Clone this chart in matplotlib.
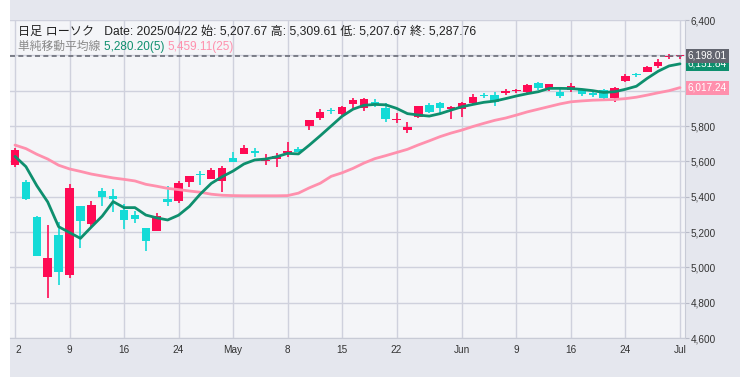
import numpy as np
import matplotlib
matplotlib.use("Agg")
import matplotlib.pyplot as plt
from matplotlib.patches import Rectangle

plt.rcParams['font.family'] = ['Liberation Sans', 'Noto Sans CJK JP', 'DejaVu Sans']

# daily candles (Apr 2 .. Jul 1)
opens = [5579, 5483, 5285, 4947, 5183, 4957, 5347, 5247, 5432, 5404,
         5325, 5295, 5223, 5207.67, 5387, 5376, 5485, 5525, 5502, 5490,
         5621, 5640, 5652, 5601, 5612, 5650, 5670, 5802, 5847, 5888,
         5866, 5923, 5904, 5938, 5900, 5832, 5776, 5849, 5919, 5932,
         5898, 5894, 5932, 5973, 5975, 5985, 5996, 5994, 6042, 6013,
         5994, 6002, 6004, 5985, 6004, 5960, 6056, 6094, 6108, 6141,
         6190, 6194]
highs = [5675, 5494, 5288, 5240, 5258, 5473, 5350, 5375, 5451, 5443,
         5359, 5319, 5225, 5309.61, 5460, 5489, 5517, 5545, 5562, 5575,
         5655, 5692, 5674, 5642, 5649, 5711, 5679, 5836, 5896, 5900,
         5913, 5957, 5960, 5951, 5928, 5872, 5823, 5915, 5932, 5936,
         5915, 5934, 5979, 5985, 5991, 6009, 6008, 6035, 6049, 6040,
         6008, 6042, 6009, 5994, 6011, 6023, 6094, 6100, 6140, 6179,
         6206, 6202]
lows = [5568, 5381, 5064, 4828, 4900, 4941, 5111, 5230, 5347, 5315,
        5215, 5249, 5094, 5207.67, 5349, 5366, 5453, 5464, 5502, 5428,
        5598, 5640, 5626, 5579, 5570, 5626, 5653, 5778, 5834, 5866,
        5863, 5900, 5887, 5909, 5824, 5819, 5762, 5847, 5875, 5872,
        5838, 5853, 5919, 5957, 5915, 5974, 5989, 5985, 6004, 5998,
        5957, 5994, 5970, 5966, 5947, 5934, 6047, 6075, 6104, 6130,
        6178, 6178]
closes = [5664, 5389, 5066, 5055, 4975, 5447, 5264, 5353, 5400, 5387,
          5268, 5275, 5151, 5287.76, 5372, 5477, 5515, 5522, 5551, 5562,
          5598, 5674, 5648, 5605, 5630, 5657, 5655, 5834, 5877, 5885,
          5906, 5947, 5951, 5926, 5838, 5836, 5793, 5913, 5881, 5904,
          5902, 5928, 5962, 5969, 5938, 5998, 5999, 6030, 6017, 6038,
          5972, 6028, 5979, 5976, 5957, 6013, 6085, 6087, 6136, 6164,
          6193, 6198.01]

ma5 = [5628, 5570, 5462, 5370, 5230, 5197, 5164, 5228, 5290, 5372,
       5338, 5338, 5296, 5280.2, 5268, 5295, 5345, 5415, 5475, 5513,
       5545, 5585, 5608, 5613, 5626, 5645, 5642, 5692, 5745, 5800,
       5855, 5895, 5917, 5922, 5920, 5900, 5870, 5862, 5856, 5870,
       5890, 5909, 5922, 5934, 5941, 5955, 5970, 5983, 5994, 6013,
       6013, 6012, 6007, 6000, 5990, 5994, 6008, 6025, 6070, 6110,
       6140, 6151.84]
ma25 = [5692, 5672, 5640, 5613, 5578, 5557, 5543, 5528, 5517, 5506,
        5498, 5489, 5470, 5459.11, 5447, 5440, 5432, 5425, 5414, 5408,
        5406, 5405, 5405, 5405, 5405, 5406, 5420, 5450, 5476, 5515,
        5535, 5560, 5590, 5615, 5632, 5650, 5668, 5693, 5716, 5740,
        5760, 5777, 5797, 5815, 5832, 5845, 5862, 5880, 5895, 5910,
        5925, 5937, 5942, 5946, 5948, 5950, 5955, 5963, 5975, 5988,
        6000, 6017.24]

tick_pos = [0, 5, 10, 15, 20, 25, 30, 35, 41, 46, 51, 56, 61]
tick_labels = ["2", "9", "16", "24", "May", "8", "15", "22", "Jun", "9", "16", "24", "Jul"]
y_ticks = list(range(4600, 6401, 200))

UP = "#ff0a54"
DOWN = "#14dbd7"
MA5_C = "#0e8f6e"
MA25_C = "#ff90ad"

W, H = 746, 379
fig = plt.figure(figsize=(W / 100, H / 100), dpi=100)
fig.patch.set_facecolor("#ffffff")
fig.add_artist(Rectangle((10 / W, 2 / H), 730 / W, 377 / H, transform=fig.transFigure,
                         facecolor="#e5e7ee", edgecolor="none", zorder=0))

ax = fig.add_axes([10 / W, (H - 338) / H, 675 / W, 318 / H])
ax.set_facecolor("#f4f5f8")

x = np.arange(len(closes))
o = np.array(opens)
c = np.array(closes)
up = c >= o
body_lo = np.minimum(o, c)
body_h = np.maximum(np.abs(c - o), 8)
colors = np.where(up, UP, DOWN)

ax.vlines(x, lows, highs, colors=colors, lw=1.2, zorder=3)
ax.bar(x, body_h, bottom=body_lo, width=0.78, color=colors, zorder=3)

ax.plot(x, ma25, color=MA25_C, lw=2, zorder=4, solid_capstyle="round")
ax.plot(x, ma5, color=MA5_C, lw=2, zorder=5, solid_capstyle="round")

ax.axhline(closes[-1], color="#6a6d78", lw=1.2, ls=(0, (3, 2)), zorder=6)

ax.set_xlim(-0.46, len(closes) - 1 + 0.46)
ax.set_ylim(4600, 6400)
ax.set_yticks(y_ticks)
# the 6,000 label sits under the MA25 price box
ax.set_yticklabels(["" if v == 6000 else f"{v:,}" for v in y_ticks])
ax.set_xticks(tick_pos)
ax.set_xticklabels(tick_labels)
ax.xaxis.get_ticklabels()[0].set_ha("left")
ax.yaxis.tick_right()
ax.grid(color="#cfd1dd", lw=1, zorder=0)
ax.set_axisbelow(True)
ax.tick_params(axis="y", length=3, color="#b8bbc8", labelsize=7.2, labelcolor="#333333", pad=1)
ax.tick_params(axis="x", length=0, labelsize=7.2, labelcolor="#333333", pad=5)
for s in ["top", "left"]:
    ax.spines[s].set_visible(False)
ax.spines["right"].set_color("#c8cbd6")
ax.spines["bottom"].set_color("#c8cbd6")

# price labels on the right scale
tr = ax.get_yaxis_transform()
for val, fc in [(ma25[-1], MA25_C), (ma5[-1], MA5_C), (closes[-1], "#62656f")]:
    ax.text(1.0 + 3 / 675, val, f"{val:,.2f}", transform=tr, ha="left", va="center",
            fontsize=7.2, color="white", zorder=10, clip_on=False,
            bbox=dict(boxstyle="square,pad=0.2", fc=fc, ec="none"))

# header legend
fig.text(18 / W, 1 - 32 / H,
         "日足 ローソク   Date: 2025/04/22 始: 5,207.67 高: 5,309.61 低: 5,207.67 終: 5,287.76",
         fontsize=8.7, color="#222222", va="center")
renderer = fig.canvas.get_renderer()
xpos = 18
for txt, col in [("単純移動平均線 ", "#8a8a8a"), ("5,280.20(5) ", MA5_C), ("5,459.11(25)", MA25_C)]:
    t = fig.text(xpos / W, 1 - 47 / H, txt, fontsize=8.5, color=col, va="center")
    xpos = t.get_window_extent(renderer).x1

fig.savefig("out.png", dpi=100, facecolor=fig.get_facecolor())
